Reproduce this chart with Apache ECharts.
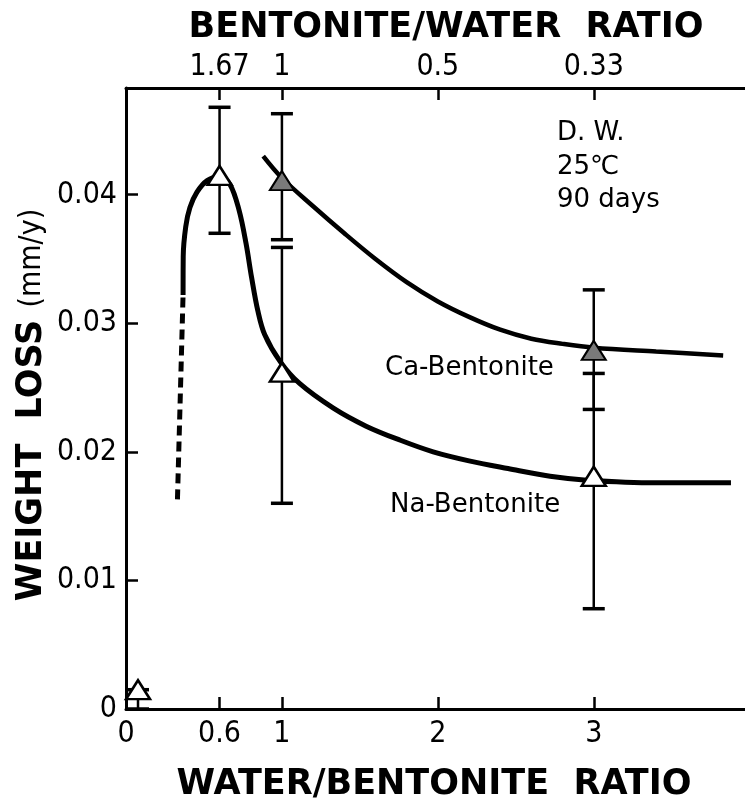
<!DOCTYPE html>
<html><head><meta charset="utf-8">
<script src="https://cdn.jsdelivr.net/npm/echarts@6/dist/echarts.min.js"></script>
<style>html,body{margin:0;padding:0;background:#fff}#c{width:745px;height:805px}</style>
</head><body><div id="c"></div>
<script>
// ---- data ----
const bottomTickValues = [0.6, 1, 2, 3];
const bottomLabelValues = [0, 0.6, 1, 2, 3];
const topTickValues = [0.6, 1, 2, 3];
const topTickLabels = ['1.67', '1', '0.5', '0.33'];
const yTickValues = [0.01, 0.02, 0.03, 0.04];
const yLabelValues = [0, 0.01, 0.02, 0.03, 0.04];

// Na-Bentonite measured points (open triangles)
const naX = [0.077, 0.6, 1, 3];
const naY = [0.0015, 0.0415, 0.0262, 0.0181];
const naLow = [0, 0.0370, 0.0160, 0.0078];
const naHigh = [0.0015, 0.0468, 0.0359, 0.0261];

// Ca-Bentonite measured points (filled triangles)
const caX = [1, 3];
const caY = [0.0411, 0.0279];
const caLow = [0.0365, 0.0233];
const caHigh = [0.0463, 0.0326];

// fitted curves
const naDashCurve = [[0.330, 0.0163], [0.366, 0.0322]];
const naCurve = [[0.366, 0.0322], [0.367, 0.0352], [0.383, 0.0375], [0.41, 0.0390], [0.455, 0.0402],
  [0.52, 0.0411], [0.6, 0.0414], [0.667, 0.0408], [0.725, 0.0388], [0.77, 0.0362], [0.805, 0.0336],
  [0.845, 0.0310], [0.89, 0.0291], [0.99, 0.0270], [1.115, 0.0253], [1.33, 0.0234], [1.54, 0.0220],
  [1.76, 0.0209], [1.97, 0.0200], [2.2, 0.0193], [2.45, 0.0187], [2.72, 0.0181], [2.955, 0.0178], [3.4, 0.0176], [3.88, 0.0176]];
const caCurve = [[0.88, 0.0430], [1.0, 0.0413], [1.2, 0.0391], [1.4, 0.0370], [1.6, 0.0350],
  [1.8, 0.0332], [2.0, 0.0317], [2.2, 0.0305], [2.4, 0.0295], [2.6, 0.0288], [2.8, 0.0284],
  [3.0, 0.0281], [3.4, 0.0278], [3.83, 0.0275]];

const xMax = 3.97, yMax = 0.0483;

const naPts = naX.map((x, i) => [x, naY[i]]);
const caPts = caX.map((x, i) => [x, caY[i]]);
const errData = naX.map((x, i) => [x, naLow[i], naHigh[i]]).concat(caX.map((x, i) => [x, caLow[i], caHigh[i]]));

const tickFont = '"Liberation Sans Narrow", "DejaVu Sans Condensed", sans-serif';
const titleFont = '"DejaVu Sans", sans-serif';

const chart = echarts.init(document.getElementById('c'), null, {renderer: 'canvas'});
chart.setOption({
  animation: false,
  backgroundColor: '#fff',
  grid: {left: 126, right: 0, top: 88, bottom: 96},
  xAxis: [{
    type: 'value', min: 0, max: xMax, position: 'bottom',
    axisLine: {onZero: false, lineStyle: {color: '#000', width: 3}},
    axisTick: {inside: true, length: 12, customValues: bottomTickValues, lineStyle: {color: '#000', width: 2.5}},
    axisLabel: {customValues: bottomLabelValues, color: '#000', fontSize: 30, fontFamily: tickFont, margin: 10,
      formatter: v => String(v)},
    splitLine: {show: false}
  }, {
    type: 'value', min: 0, max: xMax, position: 'top',
    axisLine: {onZero: false, lineStyle: {color: '#000', width: 3}},
    axisTick: {inside: true, length: 12, customValues: topTickValues, lineStyle: {color: '#000', width: 2.5}},
    axisLabel: {customValues: topTickValues, color: '#000', fontSize: 30, fontFamily: tickFont, margin: 6,
      formatter: v => { const i = topTickValues.findIndex(t => Math.abs(t - v) < 1e-6); return i >= 0 ? topTickLabels[i] : ''; }},
    splitLine: {show: false}
  }],
  yAxis: {
    type: 'value', min: 0, max: yMax,
    axisLine: {show: true, onZero: false, lineStyle: {color: '#000', width: 3}},
    axisTick: {show: true, inside: true, length: 12, customValues: yTickValues, lineStyle: {color: '#000', width: 2.5}},
    axisLabel: {customValues: yLabelValues, color: '#000', fontSize: 30, fontFamily: tickFont, margin: 9,
      formatter: v => v === 0 ? '0' : v.toFixed(2)},
    splitLine: {show: false}
  },
  graphic: [
    {type: 'text', style: {text: 'BENTONITE/WATER  RATIO', x: 446, y: 28, align: 'center', verticalAlign: 'middle', fill: '#000', font: 'bold 35px ' + titleFont}},
    {type: 'text', style: {text: 'WATER/BENTONITE  RATIO', x: 434, y: 785, align: 'center', verticalAlign: 'middle', fill: '#000', font: 'bold 35px ' + titleFont}},
    {type: 'text', x: 32, y: 405, rotation: Math.PI / 2, style: {text: 'WEIGHT  LOSS {s|(mm/y)}', x: 0, y: 0, align: 'center', verticalAlign: 'middle', fill: '#000', font: 'bold 35px ' + titleFont,
      rich: {s: {fontSize: 30, fontWeight: 'normal', fontFamily: tickFont, fill: '#000'}}}},
    {type: 'text', style: {text: 'D. W.', x: 557, y: 133, align: 'left', verticalAlign: 'middle', fill: '#000', font: '26px ' + titleFont}},
    {type: 'text', style: {text: '25℃', x: 557, y: 167, align: 'left', verticalAlign: 'middle', fill: '#000', font: '26px ' + titleFont}},
    {type: 'text', style: {text: '90 days', x: 557, y: 200, align: 'left', verticalAlign: 'middle', fill: '#000', font: '26px ' + titleFont}},
    {type: 'text', style: {text: 'Ca-Bentonite', x: 385, y: 368, align: 'left', verticalAlign: 'middle', fill: '#000', font: '26px ' + titleFont}},
    {type: 'text', style: {text: 'Na-Bentonite', x: 390, y: 505, align: 'left', verticalAlign: 'middle', fill: '#000', font: '26px ' + titleFont}}
  ],
  series: [
    {type: 'line', data: naDashCurve, symbol: 'none', lineStyle: {color: '#000', width: 5, type: [10, 6]}, z: 2},
    {type: 'line', data: naCurve, smooth: 0.35, symbol: 'none', lineStyle: {color: '#000', width: 5}, z: 2},
    {type: 'line', data: caCurve, smooth: 0.35, symbol: 'none', lineStyle: {color: '#000', width: 4.5}, z: 2},
    {type: 'custom', data: errData, encode: {x: 0, y: [1, 2]}, z: 3,
      renderItem: (params, api) => {
        const x = api.value(0), lo = api.value(1), hi = api.value(2);
        const p1 = api.coord([x, lo]), p2 = api.coord([x, hi]);
        const hw = 11;
        return {type: 'group', children: [
          {type: 'line', shape: {x1: p1[0], y1: p1[1], x2: p2[0], y2: p2[1]}, style: {stroke: '#000', lineWidth: 2.5}},
          {type: 'line', shape: {x1: p1[0] - hw, y1: p1[1], x2: p1[0] + hw, y2: p1[1]}, style: {stroke: '#000', lineWidth: 3.5}},
          {type: 'line', shape: {x1: p2[0] - hw, y1: p2[1], x2: p2[0] + hw, y2: p2[1]}, style: {stroke: '#000', lineWidth: 3.5}}
        ]};
      }},
    {type: 'scatter', data: naPts, symbol: 'triangle', symbolSize: [24, 19], z: 5,
      itemStyle: {color: '#fff', borderColor: '#000', borderWidth: 2.5, opacity: 1}},
    {type: 'scatter', data: caPts, symbol: 'triangle', symbolSize: [24, 19], z: 5,
      itemStyle: {color: '#7a7a7a', borderColor: '#000', borderWidth: 2, opacity: 1}}
  ]
});
</script>
</body></html>
